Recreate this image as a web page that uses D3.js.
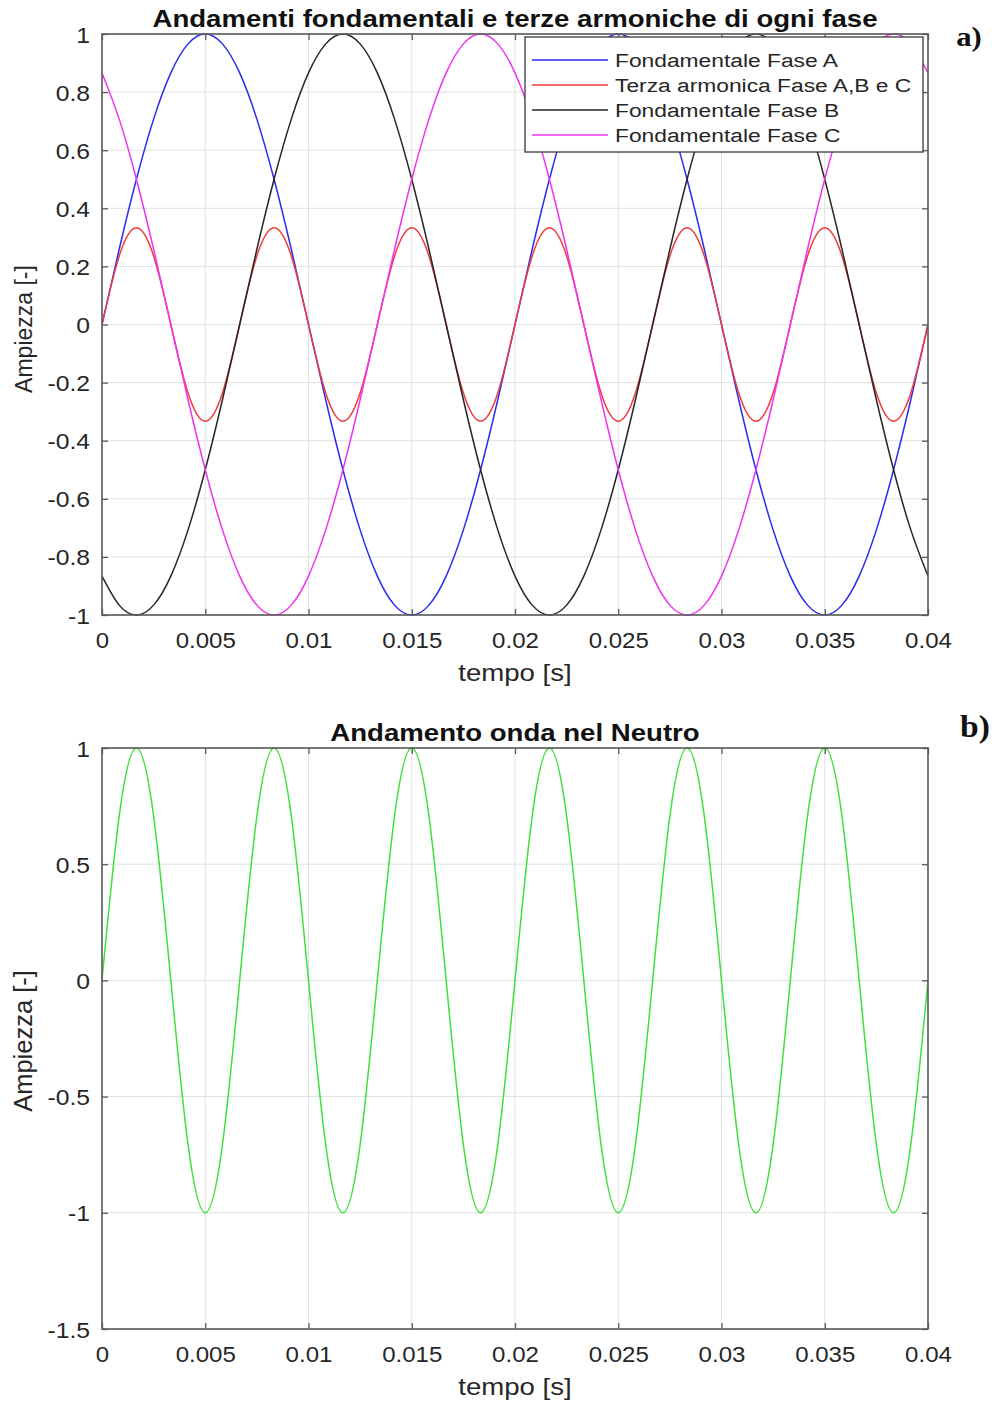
<!DOCTYPE html>
<html>
<head>
<meta charset="utf-8">
<script src="https://cdn.jsdelivr.net/npm/d3@7"></script>
<style>
  html, body { margin: 0; padding: 0; background: #fff; }
  svg { display: block; }
</style>
</head>
<body>
<div id="chart"></div>
<script>
// ---------------- DATA ----------------
const tempo = [0, 0.000833, 0.001667, 0.0025, 0.003333, 0.004167, 0.005, 0.005833, 0.006667, 0.0075, 0.008333, 0.009167,
  0.01, 0.010833, 0.011667, 0.0125, 0.013333, 0.014167, 0.015, 0.015833, 0.016667, 0.0175, 0.018333, 0.019167,
  0.02, 0.020833, 0.021667, 0.0225, 0.023333, 0.024167, 0.025, 0.025833, 0.026667, 0.0275, 0.028333, 0.029167,
  0.03, 0.030833, 0.031667, 0.0325, 0.033333, 0.034167, 0.035, 0.035833, 0.036667, 0.0375, 0.038333, 0.039167, 0.04];

const faseA = [0, 0.259, 0.5, 0.707, 0.866, 0.966, 1, 0.966, 0.866, 0.707, 0.5, 0.259,
  0, -0.259, -0.5, -0.707, -0.866, -0.966, -1, -0.966, -0.866, -0.707, -0.5, -0.259,
  0, 0.259, 0.5, 0.707, 0.866, 0.966, 1, 0.966, 0.866, 0.707, 0.5, 0.259,
  0, -0.259, -0.5, -0.707, -0.866, -0.966, -1, -0.966, -0.866, -0.707, -0.5, -0.259, 0];

const terzaArmonica = [0, 0.236, 0.333, 0.236, 0, -0.236, -0.333, -0.236,
  0, 0.236, 0.333, 0.236, 0, -0.236, -0.333, -0.236,
  0, 0.236, 0.333, 0.236, 0, -0.236, -0.333, -0.236,
  0, 0.236, 0.333, 0.236, 0, -0.236, -0.333, -0.236,
  0, 0.236, 0.333, 0.236, 0, -0.236, -0.333, -0.236,
  0, 0.236, 0.333, 0.236, 0, -0.236, -0.333, -0.236, 0];

const faseB = [-0.866, -0.966, -1, -0.966, -0.866, -0.707, -0.5, -0.259, 0, 0.259, 0.5, 0.707,
  0.866, 0.966, 1, 0.966, 0.866, 0.707, 0.5, 0.259, 0, -0.259, -0.5, -0.707,
  -0.866, -0.966, -1, -0.966, -0.866, -0.707, -0.5, -0.259, 0, 0.259, 0.5, 0.707,
  0.866, 0.966, 1, 0.966, 0.866, 0.707, 0.5, 0.259, 0, -0.259, -0.5, -0.707, -0.866];

const faseC = [0.866, 0.707, 0.5, 0.259, 0, -0.259, -0.5, -0.707, -0.866, -0.966, -1, -0.966,
  -0.866, -0.707, -0.5, -0.259, 0, 0.259, 0.5, 0.707, 0.866, 0.966, 1, 0.966,
  0.866, 0.707, 0.5, 0.259, 0, -0.259, -0.5, -0.707, -0.866, -0.966, -1, -0.966,
  -0.866, -0.707, -0.5, -0.259, 0, 0.259, 0.5, 0.707, 0.866, 0.966, 1, 0.966, 0.866];

const neutro = [0, 0.707, 1, 0.707, 0, -0.707, -1, -0.707,
  0, 0.707, 1, 0.707, 0, -0.707, -1, -0.707,
  0, 0.707, 1, 0.707, 0, -0.707, -1, -0.707,
  0, 0.707, 1, 0.707, 0, -0.707, -1, -0.707,
  0, 0.707, 1, 0.707, 0, -0.707, -1, -0.707,
  0, 0.707, 1, 0.707, 0, -0.707, -1, -0.707, 0];

const xTicks = [0, 0.005, 0.01, 0.015, 0.02, 0.025, 0.03, 0.035, 0.04];
const yTicksTop = [-1, -0.8, -0.6, -0.4, -0.2, 0, 0.2, 0.4, 0.6, 0.8, 1];
const yTicksBottom = [-1.5, -1, -0.5, 0, 0.5, 1];

const legendLabels = ["Fondamentale Fase A", "Terza armonica Fase A,B e C", "Fondamentale Fase B", "Fondamentale Fase C"];
const seriesColors = ["#2b2bf0", "#f03a3a", "#262626", "#f032f0"];
const neutroColor = "#3ee03e";

const titleTop = "Andamenti fondamentali e terze armoniche di ogni fase";
const titleBottom = "Andamento onda nel Neutro";
const xLabel = "tempo [s]";
const yLabel = "Ampiezza [-]";

// ---------------- DRAW ----------------
const W = 998, H = 1402;
const SX = 1.2; // horizontal stretch of the reference image text
const SANS = "'Liberation Sans', Arial, sans-serif";
const SERIF = "'Liberation Serif', 'Times New Roman', serif";

const svg = d3.select("#chart").append("svg").attr("width", W).attr("height", H);
svg.append("rect").attr("width", W).attr("height", H).attr("fill", "#fff");

function addText(g, x, y, txt, opts) {
  const o = Object.assign({size: 20, weight: "normal", anchor: "middle", family: SANS, fill: "#262626", sx: SX, rotate: 0}, opts || {});
  let tr = `translate(${x},${y})`;
  if (o.rotate) tr += ` rotate(${o.rotate})`;
  tr += ` scale(${o.sx},1)`;
  return g.append("text").attr("transform", tr)
    .attr("font-family", o.family).attr("font-size", o.size).attr("font-weight", o.weight)
    .attr("text-anchor", o.anchor).attr("fill", o.fill).text(txt);
}

const fmtX = d => d === 0 ? "0" : String(+d.toFixed(3));
const fmtY = d => String(+d.toFixed(1));

function panel(cfg) {
  const {x0, x1, y0, y1, yDomain, yTicks, series, title, ylabelSize, ylabelY, id} = cfg;
  const g = svg.append("g");
  const x = d3.scaleLinear().domain([0, 0.04]).range([x0, x1]);
  const y = d3.scaleLinear().domain(yDomain).range([y1, y0]);

  g.append("rect").attr("x", x0).attr("y", y0).attr("width", x1 - x0).attr("height", y1 - y0).attr("fill", "#fff");

  // grid
  g.append("g").selectAll("line").data(xTicks).join("line")
    .attr("x1", d => x(d)).attr("x2", d => x(d)).attr("y1", y0).attr("y2", y1)
    .attr("stroke", "#e1e1e1").attr("stroke-width", 1);
  g.append("g").selectAll("line").data(yTicks).join("line")
    .attr("y1", d => y(d)).attr("y2", d => y(d)).attr("x1", x0).attr("x2", x1)
    .attr("stroke", "#e1e1e1").attr("stroke-width", 1);

  svg.append("clipPath").attr("id", id).append("rect")
    .attr("x", x0).attr("y", y0 - 1).attr("width", x1 - x0).attr("height", y1 - y0 + 2);

  const line = d3.line().x((d, i) => x(tempo[i])).y(d => y(d)).curve(d3.curveNatural);
  const lines = g.append("g").attr("clip-path", `url(#${id})`);
  series.forEach(s => {
    lines.append("path").datum(s.values).attr("d", line)
      .attr("fill", "none").attr("stroke", s.color).attr("stroke-width", 1.5);
  });

  const axStyle = sel => {
    sel.select(".domain").remove();
    sel.selectAll(".tick line").attr("stroke", "#5a5a5a").attr("stroke-width", 1.3);
  };
  const bx = g.append("g").attr("transform", `translate(0,${y1})`)
    .call(d3.axisBottom(x).tickValues(xTicks).tickFormat(fmtX).tickSizeInner(-6).tickSizeOuter(0));
  axStyle(bx);
  bx.selectAll(".tick text").attr("y", 0).attr("dy", null)
    .attr("transform", `translate(0,33) scale(1.12,1)`)
    .attr("font-family", SANS).attr("font-size", 21.5).attr("fill", "#262626");

  const tx = g.append("g").attr("transform", `translate(0,${y0})`)
    .call(d3.axisTop(x).tickValues(xTicks).tickFormat("").tickSizeInner(-6).tickSizeOuter(0));
  axStyle(tx);

  const ly = g.append("g").attr("transform", `translate(${x0},0)`)
    .call(d3.axisLeft(y).tickValues(yTicks).tickFormat(fmtY).tickSizeInner(-6).tickSizeOuter(0));
  axStyle(ly);
  ly.selectAll(".tick text").attr("x", 0).attr("dy", null)
    .attr("transform", `translate(-12,8) scale(1.15,1)`)
    .attr("font-family", SANS).attr("font-size", 21.5).attr("fill", "#262626");

  const ry = g.append("g").attr("transform", `translate(${x1},0)`)
    .call(d3.axisRight(y).tickValues(yTicks).tickFormat("").tickSizeInner(-6).tickSizeOuter(0));
  axStyle(ry);

  g.append("rect").attr("x", x0).attr("y", y0).attr("width", x1 - x0).attr("height", y1 - y0)
    .attr("fill", "none").attr("stroke", "#5a5a5a").attr("stroke-width", 1.6);

  addText(g, (x0 + x1) / 2, y0 - 7, title, {size: 23, weight: "bold", fill: "#111"});
  addText(g, (x0 + x1) / 2, y1 + 66, xLabel, {size: 23, fill: "#262626"});
  addText(g, 32, ylabelY, yLabel, {size: ylabelSize, fill: "#262626", rotate: -90, sx: 1});

  return {g, x, y};
}

const panelTop = panel({
  id: "clipTop", x0: 102, x1: 928, y0: 34, y1: 615, yDomain: [-1, 1], yTicks: yTicksTop,
  title: titleTop, ylabelSize: 23, ylabelY: 329,
  series: [
    {values: faseA, color: seriesColors[0]},
    {values: terzaArmonica, color: seriesColors[1]},
    {values: faseB, color: seriesColors[2]},
    {values: faseC, color: seriesColors[3]}
  ]
});

const panelBottom = panel({
  id: "clipBottom", x0: 102, x1: 928, y0: 748, y1: 1329, yDomain: [-1.5, 1], yTicks: yTicksBottom,
  title: titleBottom, ylabelSize: 25.5, ylabelY: 1041,
  series: [{values: neutro, color: neutroColor}]
});

// legend (top panel)
const lg = svg.append("g");
const lx = 525, ly0 = 37, lw = 398, lh = 115;
lg.append("rect").attr("x", lx).attr("y", ly0).attr("width", lw).attr("height", lh)
  .attr("fill", "#fff").attr("stroke", "#3a3a3a").attr("stroke-width", 1.3);
legendLabels.forEach((lab, i) => {
  const cy = 60 + i * 25;
  lg.append("line").attr("x1", 532).attr("x2", 608).attr("y1", cy).attr("y2", cy)
    .attr("stroke", seriesColors[i]).attr("stroke-width", 1.5);
  addText(lg, 615, cy + 7, lab, {size: 19, anchor: "start", fill: "#262626"});
});

// panel letters
addText(svg, 969, 46, "a)", {size: 28, weight: "bold", family: SERIF, fill: "#111", sx: 1.1});
addText(svg, 975, 737, "b)", {size: 32, weight: "bold", family: SERIF, fill: "#111", sx: 1.05});
</script>
</body>
</html>
